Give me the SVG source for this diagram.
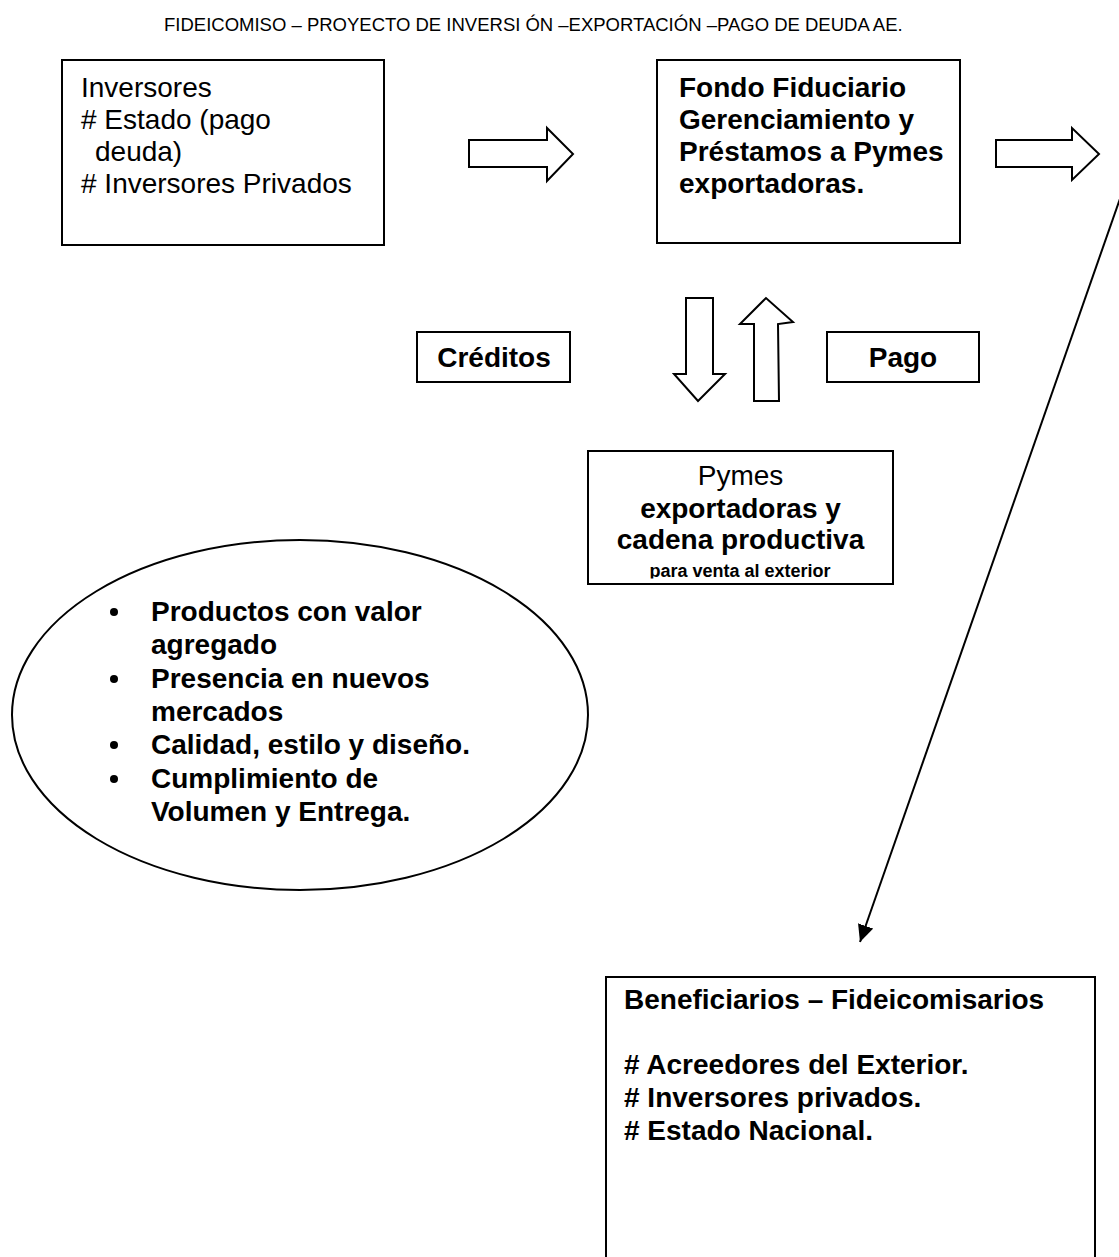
<svg xmlns="http://www.w3.org/2000/svg" width="1119" height="1257" viewBox="0 0 1119 1257">
<style>
.box{fill:#fff;stroke:#000;stroke-width:2}
.blk{fill:#fff;stroke:#000;stroke-width:2;stroke-linejoin:miter}
.t{font-family:"Liberation Sans",Arial,sans-serif;font-size:28px;fill:#000}
.b{font-weight:bold}
.c{text-anchor:middle}
.ttl{font-family:"Liberation Sans",Arial,sans-serif;font-size:18.5px;fill:#000}
.sm{font-size:18px}
.line{fill:none;stroke:#000;stroke-width:2}
</style>
<defs>
<marker id="ah" markerUnits="userSpaceOnUse" markerWidth="18" markerHeight="16" refX="17" refY="8" orient="auto">
<path d="M0,0 L17,8 L0,16 Z" fill="#000"/>
</marker>
<clipPath id="pclip"><rect x="588" y="451" width="305" height="127.5"/></clipPath>
</defs>
<rect width="1119" height="1257" fill="#fff"/>
<text class="ttl" x="164" y="31">FIDEICOMISO – PROYECTO DE INVERSI<tspan dx="5">ÓN</tspan> –EXPORTACIÓN –PAGO DE DEUDA AE.</text>

<g id="inversores">
<rect class="box" x="62" y="60" width="322" height="185"/>
<text class="t" x="81" y="97">Inversores</text>
<text class="t" x="81" y="129"># Estado (pago</text>
<text class="t" x="95" y="161">deuda)</text>
<text class="t" x="81" y="193"># Inversores Privados</text>
</g>

<g id="fondo">
<rect class="box" x="657" y="60" width="303" height="183"/>
<text class="t b" x="679" y="97">Fondo Fiduciario</text>
<text class="t b" x="679" y="129">Gerenciamiento y</text>
<text class="t b" x="679" y="161">Préstamos a Pymes</text>
<text class="t b" x="679" y="193">exportadoras.</text>
</g>

<g id="creditos">
<rect class="box" x="417" y="332" width="153" height="50"/>
<text class="t b c" x="494" y="367">Créditos</text>
</g>

<g id="pago">
<rect class="box" x="827" y="332" width="152" height="50"/>
<text class="t b c" x="903" y="367">Pago</text>
</g>

<g id="pymes">
<rect class="box" x="588" y="451" width="305" height="133"/>
<text class="t c" x="740.5" y="485">Pymes</text>
<text class="t b c" x="740.5" y="518">exportadoras y</text>
<text class="t b c" x="740.5" y="549">cadena productiva</text>
<text class="t b c sm" x="740" y="577" clip-path="url(#pclip)">para venta al exterior</text>
</g>

<g id="objetivos">
<ellipse class="box" cx="300" cy="715" rx="288" ry="175"/>
<circle cx="114" cy="612" r="4"/>
<circle cx="114" cy="679" r="4"/>
<circle cx="114" cy="745" r="4"/>
<circle cx="114" cy="779" r="4"/>
<text class="t b" x="151" y="621">Productos con valor</text>
<text class="t b" x="151" y="654">agregado</text>
<text class="t b" x="151" y="688">Presencia en nuevos</text>
<text class="t b" x="151" y="721">mercados</text>
<text class="t b" x="151" y="754">Calidad, estilo y diseño.</text>
<text class="t b" x="151" y="788">Cumplimiento de</text>
<text class="t b" x="151" y="821">Volumen y Entrega.</text>
</g>

<g id="beneficiarios">
<rect class="box" x="606" y="977" width="489" height="320"/>
<text class="t b" x="624" y="1009">Beneficiarios – Fideicomisarios</text>
<text class="t b" x="624" y="1074"># Acreedores del Exterior.</text>
<text class="t b" x="624" y="1107"># Inversores privados.</text>
<text class="t b" x="624" y="1140"># Estado Nacional.</text>
</g>

<g id="connectors">
<polygon class="blk" points="469,140 547,140 547,128 573,154 547,181 547,167 469,167"/>
<polygon class="blk" points="996,140 1072,140 1072,128 1099,154 1072,180 1072,167 996,167"/>
<polygon class="blk" points="686,298 713,298 713,374 725,374 698,401 674,374 686,374"/>
<polygon class="blk" points="754,401 754,324 740,324 766,298 793,322 778,324 779,401"/>
<line class="line" x1="1130" y1="170" x2="860" y2="942" marker-end="url(#ah)"/>
</g>
</svg>
